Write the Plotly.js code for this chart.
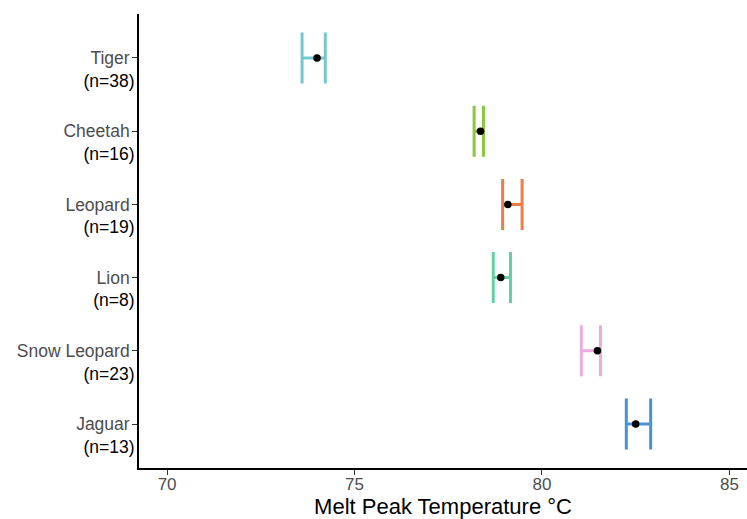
<!DOCTYPE html>
<html>
<head>
<meta charset="utf-8">
<script src="https://cdn.plot.ly/plotly-3.0.1.min.js"></script>
<style>html,body{margin:0;padding:0;background:#fff;}#chart{width:747px;height:519px;}</style>
</head>
<body>
<div id="chart"></div>
<script>
const species = ["Tiger", "Cheetah", "Leopard", "Lion", "Snow Leopard", "Jaguar"];
const nCounts = [38, 16, 19, 8, 23, 13];
const meanTemp = [74.00, 78.36, 79.09, 78.90, 81.48, 82.50];
const lowerTemp = [73.60, 78.19, 78.95, 78.70, 81.05, 82.25];
const upperTemp = [74.22, 78.44, 79.47, 79.16, 81.56, 82.90];
const barColors = ["#76C8CF", "#8CC63E", "#EF7D48", "#64CFA6", "#EBABE3", "#4A93D3"];
const xTicks = [70, 75, 80, 85];

const traces = [];
species.forEach((s, i) => {
  traces.push({
    type: "scatter",
    mode: "markers",
    x: [meanTemp[i]],
    y: [s],
    marker: {size: 1, color: "rgba(0,0,0,0)"},
    error_x: {
      type: "data",
      symmetric: false,
      array: [upperTemp[i] - meanTemp[i]],
      arrayminus: [meanTemp[i] - lowerTemp[i]],
      color: barColors[i],
      thickness: 3,
      width: 25.5
    },
    hoverinfo: "skip",
    showlegend: false
  });
});
traces.push({
  type: "scatter",
  mode: "markers",
  x: meanTemp,
  y: species,
  marker: {size: 7.5, color: "#000000"},
  showlegend: false
});

const tickText = species.map((s, i) =>
  '&nbsp;<br><span style="color:#4D4D4D">' + s + '&nbsp;</span><br><span style="color:#000000">(n=' + nCounts[i] + ')</span>'
);

const layout = {
  width: 747,
  height: 519,
  margin: {l: 139, r: 0, t: 14, b: 51, pad: 0},
  paper_bgcolor: "#ffffff",
  plot_bgcolor: "#ffffff",
  font: {family: "Liberation Sans, Arial, sans-serif", color: "#000000"},
  xaxis: {
    range: [69.25, 85.47],
    tickvals: xTicks,
    ticktext: xTicks.map(String),
    showgrid: false,
    zeroline: false,
    showline: true,
    linecolor: "#000000",
    linewidth: 2,
    ticks: "outside",
    ticklen: 5,
    tickwidth: 1,
    tickcolor: "#333333",
    tickfont: {size: 17, color: "#4D4D4D"},
    ticklabelstandoff: -5,
    title: {text: "Melt Peak Temperature °C", font: {size: 22, color: "#000000"}, standoff: 14},
    automargin: false
  },
  yaxis: {
    type: "category",
    categoryorder: "array",
    categoryarray: species,
    range: [5.6, -0.6],
    tickvals: species,
    ticktext: tickText,
    showgrid: false,
    zeroline: false,
    showline: true,
    linecolor: "#000000",
    linewidth: 2,
    ticks: "outside",
    ticklen: 5,
    tickwidth: 1,
    tickcolor: "#333333",
    tickfont: {size: 17.5, color: "#4D4D4D"},
    ticklabelstandoff: -6,
    automargin: false
  }
};

Plotly.newPlot("chart", traces, layout, {displayModeBar: false, staticPlot: true});
</script>
</body>
</html>
